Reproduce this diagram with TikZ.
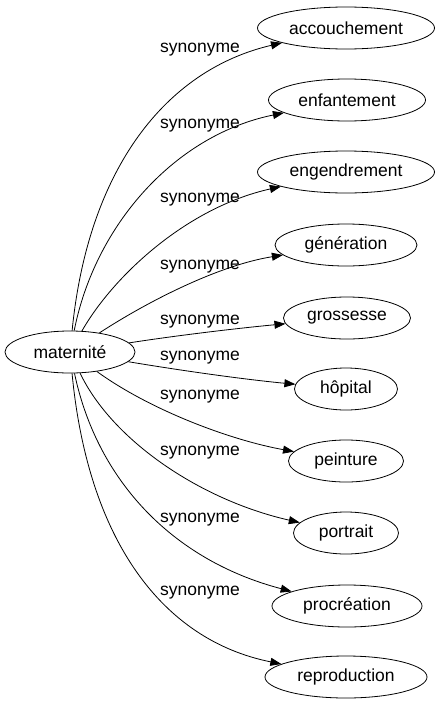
\documentclass[tikz,border=0pt]{standalone}
\usepackage{fontspec}
\setmainfont{Liberation Sans}
\usetikzlibrary{shapes.geometric,arrows.meta}
\begin{document}
\begin{tikzpicture}[x=1pt,y=-1pt,
  word/.style={draw,ellipse,inner sep=0pt,minimum height=42pt,line width=0.8pt,font=\fontsize{17.5}{20}\selectfont},
  rel/.style={draw,line width=0.8pt,-{Triangle[length=11pt,width=8pt]}},
  lab/.style={font=\fontsize{17.5}{20}\selectfont,inner sep=0pt}]
\useasboundingbox (0,0) rectangle (441,707);
\node[word,minimum width=130pt] (m) at (70,352) {maternité};
\node[word,minimum width=177pt] (t1) at (346,28) {accouchement};
\node[word,minimum width=157pt] (t2) at (347,100) {enfantement};
\node[word,minimum width=177pt] (t3) at (346,172) {engendrement};
\node[word,minimum width=142pt] (t4) at (346,245) {génération};
\node[word,minimum width=127pt] (t5) at (347,318) {grossesse};
\node[word,minimum width=103pt] (t6) at (346,389) {hôpital};
\node[word,minimum width=115pt] (t7) at (346,461) {peinture};
\node[word,minimum width=105pt] (t8) at (346,533) {portrait};
\node[word,minimum width=150pt] (t9) at (347,606) {procréation};
\node[word,minimum width=162pt] (t10) at (346,677) {reproduction};
\node[lab] (l1) at (200,50) {synonyme};
\node[lab] (l2) at (200,126) {synonyme};
\node[lab] (l3) at (200,200) {synonyme};
\node[lab] (l4) at (200,267) {synonyme};
\node[lab] (l5) at (200,322) {synonyme};
\node[lab] (l6) at (200,358) {synonyme};
\node[lab] (l7) at (200,397) {synonyme};
\node[lab] (l8) at (200,453) {synonyme};
\node[lab] (l9) at (200,520) {synonyme};
\node[lab] (l10) at (200,593) {synonyme};
\draw[rel] (m) .. controls (88,170) and (165,70) .. (t1);
\draw[rel] (m) .. controls (95,225) and (175,135) .. (t2);
\draw[rel] (m) .. controls (112,278) and (185,208) .. (t3);
\draw[rel] (m) .. controls (150,300) and (220,265) .. (t4);
\draw[rel] (m) .. controls (180,335) and (240,328) .. (t5);
\draw[rel] (m) .. controls (190,372) and (250,380) .. (t6);
\draw[rel] (m) .. controls (150,410) and (230,440) .. (t7);
\draw[rel] (m) .. controls (112,440) and (200,500) .. (t8);
\draw[rel] (m) .. controls (97,480) and (172,560) .. (t9);
\draw[rel] (m) .. controls (88,540) and (162,640) .. (t10);
\end{tikzpicture}
\end{document}
